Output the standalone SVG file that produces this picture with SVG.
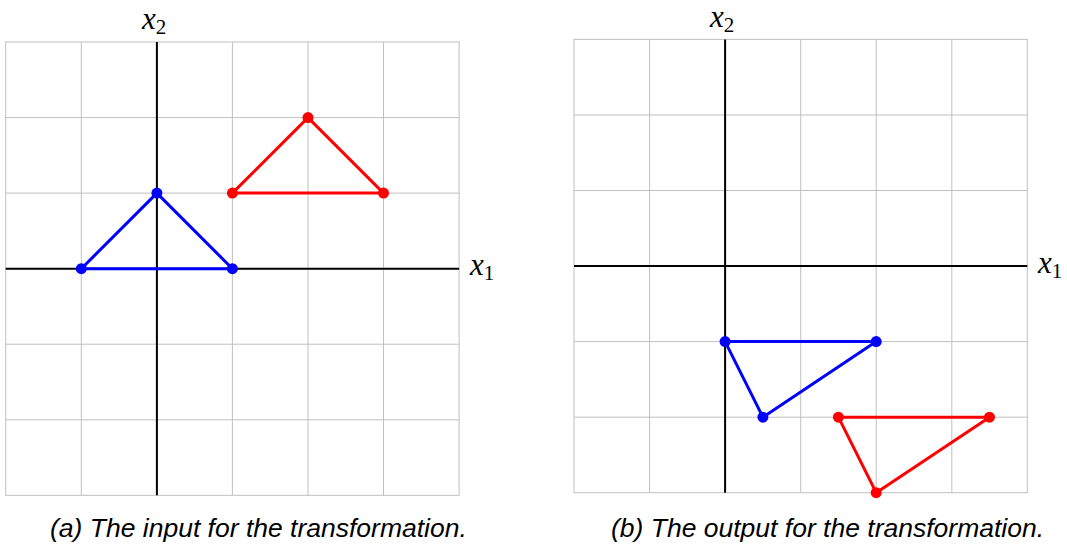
<svg xmlns="http://www.w3.org/2000/svg" width="1067" height="545" viewBox="0 0 1067 545">
<style>
.grid{stroke:#c0c0c0;stroke-width:1;fill:none}
.axis{stroke:#000;stroke-width:2;fill:none}
.blue{stroke:#0000ff;stroke-width:3;fill:none;stroke-linejoin:round}
.red{stroke:#ff0000;stroke-width:3;fill:none;stroke-linejoin:round}
.bdot{fill:#0000ff}
.rdot{fill:#ff0000}
.math{font-family:"Liberation Serif","DejaVu Serif",serif;font-size:31px;font-style:italic;fill:#000}
.sub{font-style:normal;font-size:21px}
.cap{font-family:"Liberation Sans",Arial,sans-serif;font-size:26.5px;font-style:italic;fill:#000}
</style>
<rect width="1067" height="545" fill="#fff"/>
<g id="panel-a">
  <g id="grid-a" class="grid">
    <rect x="5.7" y="42" width="453.4" height="453.3"/>
    <path d="M81.3 42V495.3M232.4 42V495.3M308 42V495.3M383.5 42V495.3M5.7 117.6H459.1M5.7 193.1H459.1M5.7 344.2H459.1M5.7 419.8H459.1"/>
  </g>
  <g id="axes-a" class="axis">
    <path d="M156.9 42V495.3M5.7 268.7H459.1"/>
  </g>
  <text class="math" x="142" y="29">x<tspan class="sub" dy="5">2</tspan></text>
  <text class="math" x="470" y="275">x<tspan class="sub" dy="5">1</tspan></text>
  <g id="tri-a-blue">
    <polygon class="blue" points="81.3,268.7 156.9,193.1 232.4,268.7"/>
    <circle class="bdot" cx="81.3" cy="268.7" r="5.5"/>
    <circle class="bdot" cx="156.9" cy="193.1" r="5.5"/>
    <circle class="bdot" cx="232.4" cy="268.7" r="5.5"/>
  </g>
  <g id="tri-a-red">
    <polygon class="red" points="232.4,193.1 308,117.6 383.5,193.1"/>
    <circle class="rdot" cx="232.4" cy="193.1" r="5.5"/>
    <circle class="rdot" cx="308" cy="117.6" r="5.5"/>
    <circle class="rdot" cx="383.5" cy="193.1" r="5.5"/>
  </g>
  <text class="cap" x="50" y="537">(a) The input for the transformation.</text>
</g>
<g id="panel-b">
  <g id="grid-b" class="grid">
    <rect x="574" y="39.4" width="453.3" height="453.3"/>
    <path d="M649.6 39.4V492.7M800.7 39.4V492.7M876.2 39.4V492.7M951.8 39.4V492.7M574 115H1027.3M574 190.5H1027.3M574 341.6H1027.3M574 417.2H1027.3"/>
  </g>
  <g id="axes-b" class="axis">
    <path d="M725.1 39.4V492.7M574 266.1H1027.3"/>
  </g>
  <text class="math" x="710" y="27">x<tspan class="sub" dy="5">2</tspan></text>
  <text class="math" x="1038" y="273">x<tspan class="sub" dy="5">1</tspan></text>
  <g id="tri-b-blue">
    <polygon class="blue" points="725.1,341.6 876.2,341.6 762.9,417.2"/>
    <circle class="bdot" cx="725.1" cy="341.6" r="5.5"/>
    <circle class="bdot" cx="876.2" cy="341.6" r="5.5"/>
    <circle class="bdot" cx="762.9" cy="417.2" r="5.5"/>
  </g>
  <g id="tri-b-red">
    <polygon class="red" points="838.4,417.2 989.5,417.2 876.2,492.7"/>
    <circle class="rdot" cx="838.4" cy="417.2" r="5.5"/>
    <circle class="rdot" cx="989.5" cy="417.2" r="5.5"/>
    <circle class="rdot" cx="876.2" cy="492.7" r="5.5"/>
  </g>
  <text class="cap" x="611" y="537">(b) The output for the transformation.</text>
</g>
</svg>
